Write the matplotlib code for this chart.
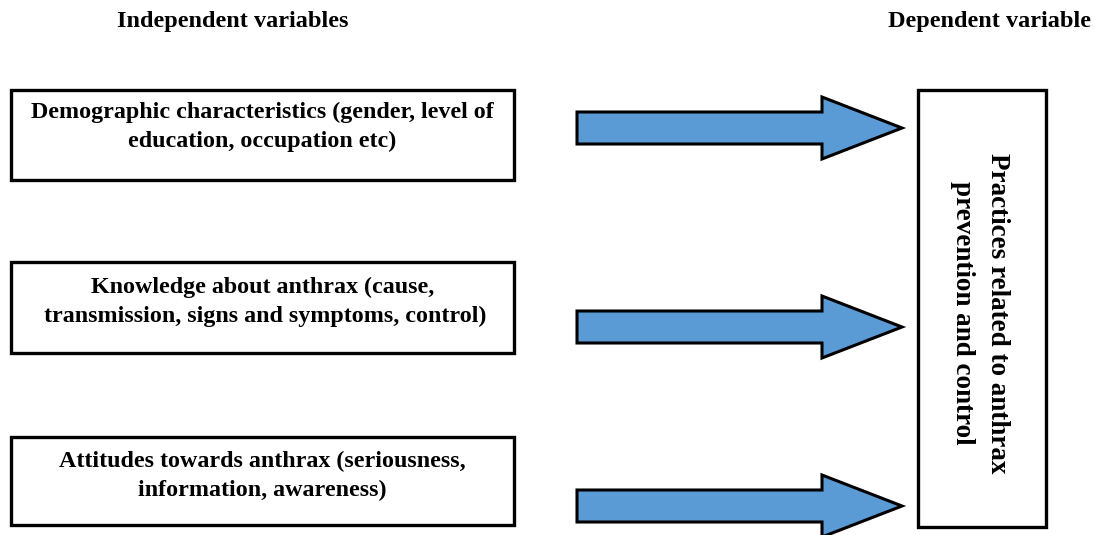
import matplotlib
matplotlib.use("Agg")
import matplotlib.pyplot as plt
from matplotlib.patches import Rectangle, Polygon

# ---- content ----
headers = ["Independent variables", "Dependent variable"]
independent_labels = [
    "Demographic characteristics (gender, level of\neducation, occupation etc)",
    "Knowledge about anthrax (cause,\n transmission, signs and symptoms, control)",
    "Attitudes towards anthrax (seriousness,\ninformation, awareness)",
]
dependent_label = "Practices related to anthrax\nprevention and control"

# ---- layout (pixel units, y downwards) ----
W, H = 1098, 535
box_left, box_right = 11, 514
box_tops = [90, 262, 437]
box_bottoms = [180, 353, 525]
text_y = [[112, 141], [287, 316], [461, 490]]
arrow_centers = [128, 327, 506]
shaft_x0, head_x0, tip_x = 577, 822, 902
shaft_half, head_half = 16, 31
dep_box = (918, 90, 1046, 527)
header_pos = [(233, 22), (990, 22)]

arrow_color = "#5B9BD5"
serif = "Liberation Serif"

fig = plt.figure(figsize=(W / 100, H / 100), dpi=100)
ax = fig.add_axes([0, 0, 1, 1])
ax.set_xlim(0, W)
ax.set_ylim(H, 0)
ax.axis("off")

for (x, y), t in zip(header_pos, headers):
    ax.text(x, y, t, ha="center", va="center", fontsize=17.5,
            fontweight="bold", family=serif)

for lab, t, b, ty in zip(independent_labels, box_tops, box_bottoms, text_y):
    ax.add_patch(Rectangle((box_left, t), box_right - box_left, b - t,
                           facecolor="white", edgecolor="black", lw=2.4))
    for line, yy in zip(lab.split("\n"), ty):
        ax.text((box_left + box_right) / 2, yy, line, ha="center", va="center",
                fontsize=17.3, fontweight="bold", family=serif)

for c in arrow_centers:
    pts = [(shaft_x0, c - shaft_half), (head_x0, c - shaft_half),
           (head_x0, c - head_half), (tip_x, c), (head_x0, c + head_half),
           (head_x0, c + shaft_half), (shaft_x0, c + shaft_half)]
    ax.add_patch(Polygon(pts, closed=True, facecolor=arrow_color,
                         edgecolor="black", lw=2.2, joinstyle="miter"))

x0, y0, x1, y1 = dep_box
ax.add_patch(Rectangle((x0, y0), x1 - x0, y1 - y0, facecolor="white",
                       edgecolor="black", lw=2.4))
ax.text(980, 313, dependent_label, rotation=-90,
        ha="center", va="center", fontsize=19.5, fontweight="bold",
        family=serif, multialignment="center", linespacing=1.5)

fig.savefig("out.png", dpi=100)
